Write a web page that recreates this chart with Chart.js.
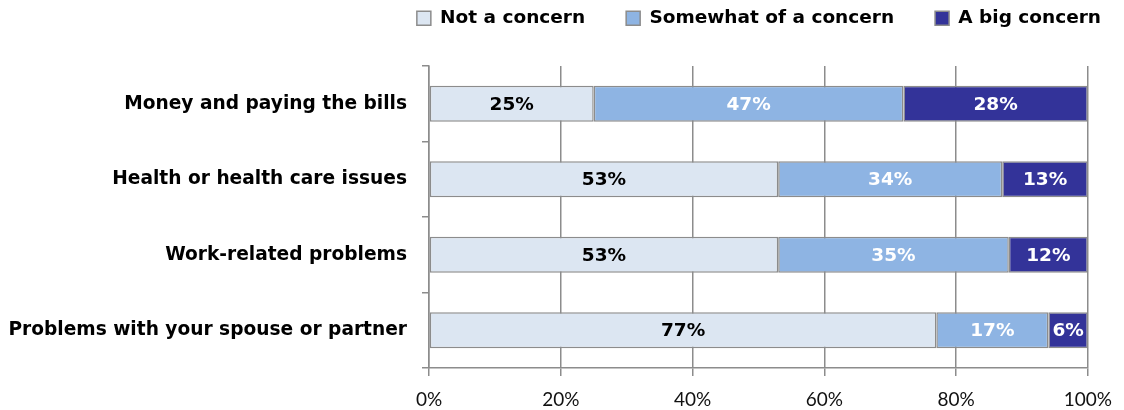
<!DOCTYPE html>
<html>
<head>
<meta charset="utf-8">
<script src="https://cdn.jsdelivr.net/npm/chart.js@4/dist/chart.umd.min.js"></script>
<style>
  html, body { margin: 0; padding: 0; background: #fff; }
  #wrap { width: 1124px; height: 410px; position: relative; }
</style>
</head>
<body>
<div id="wrap"><canvas id="c" width="1124" height="410"></canvas></div>
<script>
// Survey categories (top to bottom)
const categories = [
  'Money and paying the bills',
  'Health or health care issues',
  'Work-related problems',
  'Problems with your spouse or partner'
];

// Share of respondents per answer, in percent
const notConcern      = [25, 53, 53, 77];
const somewhatConcern = [47, 34, 35, 17];
const bigConcern      = [28, 13, 12, 6];

const seriesNames  = ['Not a concern', 'Somewhat of a concern', 'A big concern'];
const seriesColors = ['#DCE6F2', '#8EB4E3', '#333399'];
const labelColors  = ['#000000', '#FFFFFF', '#FFFFFF'];

const xTicks = [0, 20, 40, 60, 80, 100];

const BOLD_FONT = '"DejaVu Sans", sans-serif';
const TICK_FONT = 'Lato, "DejaVu Sans", sans-serif';

// Writes each segment's value in the middle of its bar
const segmentLabels = {
  id: 'segmentLabels',
  afterDatasetsDraw(chart) {
    const ctx = chart.ctx;
    ctx.save();
    ctx.font = 'bold 18.5px ' + BOLD_FONT;
    ctx.textAlign = 'center';
    ctx.textBaseline = 'middle';
    chart.data.datasets.forEach((ds, di) => {
      const meta = chart.getDatasetMeta(di);
      meta.data.forEach((bar, i) => {
        const p = bar.getProps(['x', 'y', 'base'], true);
        const cx = (p.x + p.base) / 2;
        ctx.fillStyle = labelColors[di];
        ctx.fillText(ds.data[i] + '%', cx, p.y + 1);
      });
    });
    ctx.restore();
  }
};

// Gives the legend a fixed top band and lets it run past the plot's right edge
const legendBand = {
  id: 'legendBand',
  beforeUpdate(chart) {
    const lg = chart.legend;
    if (lg && !lg._banded) {
      lg._banded = true;
      const fit = lg.fit;
      lg.fit = function () { fit.call(this); this.height = 66; };
    }
  },
  afterLayout(chart) {
    const lg = chart.legend;
    if (!lg) return;
    lg.top = -32;
    lg.right = 1142;
  }
};

const datasets = [notConcern, somewhatConcern, bigConcern].map((vals, k) => ({
  label: seriesNames[k],
  data: vals,
  backgroundColor: seriesColors[k],
  borderColor: '#8C8C8C',
  borderWidth: 1.5,
  borderSkipped: false,
  categoryPercentage: 1,
  barPercentage: 0.475
}));

new Chart(document.getElementById('c'), {
  type: 'bar',
  data: { labels: categories, datasets },
  plugins: [segmentLabels, legendBand],
  options: {
    indexAxis: 'y',
    responsive: false,
    animation: false,
    layout: { padding: { top: 0, right: 33, bottom: 0, left: 0 } },
    plugins: {
      tooltip: { enabled: false },
      legend: {
        position: 'top',
        align: 'end',
        labels: {
          boxWidth: 14,
          boxHeight: 14,
          padding: 41,
          color: '#000',
          font: { family: BOLD_FONT, size: 18.5, weight: 'bold' },
          generateLabels(chart) {
            return chart.data.datasets.map((ds, i) => ({
              text: ds.label,
              fillStyle: ds.backgroundColor,
              strokeStyle: '#8C8C8C',
              lineWidth: 1.5,
              datasetIndex: i
            }));
          }
        }
      }
    },
    scales: {
      x: {
        stacked: true,
        min: 0,
        max: 100,
        afterBuildTicks(scale) { scale.ticks = xTicks.map(v => ({ value: v })); },
        afterFit(scale) { scale.height = 42; },
        ticks: {
          color: '#111',
          padding: 12,
          font: { family: TICK_FONT, size: 19 },
          callback: v => v + '%'
        },
        grid: { color: '#8C8C8C', lineWidth: 1.5, tickLength: 8 },
        border: { color: '#8C8C8C', width: 1.5 }
      },
      y: {
        stacked: true,
        afterFit(scale) { scale.width = 429; },
        ticks: {
          color: '#000',
          padding: 15,
          font: { family: BOLD_FONT, size: 18.6, weight: 'bold' }
        },
        grid: { drawOnChartArea: false, color: '#8C8C8C', lineWidth: 1.5, tickLength: 7, offset: true },
        border: { color: '#8C8C8C', width: 1.5 }
      }
    }
  }
});
</script>
</body>
</html>
